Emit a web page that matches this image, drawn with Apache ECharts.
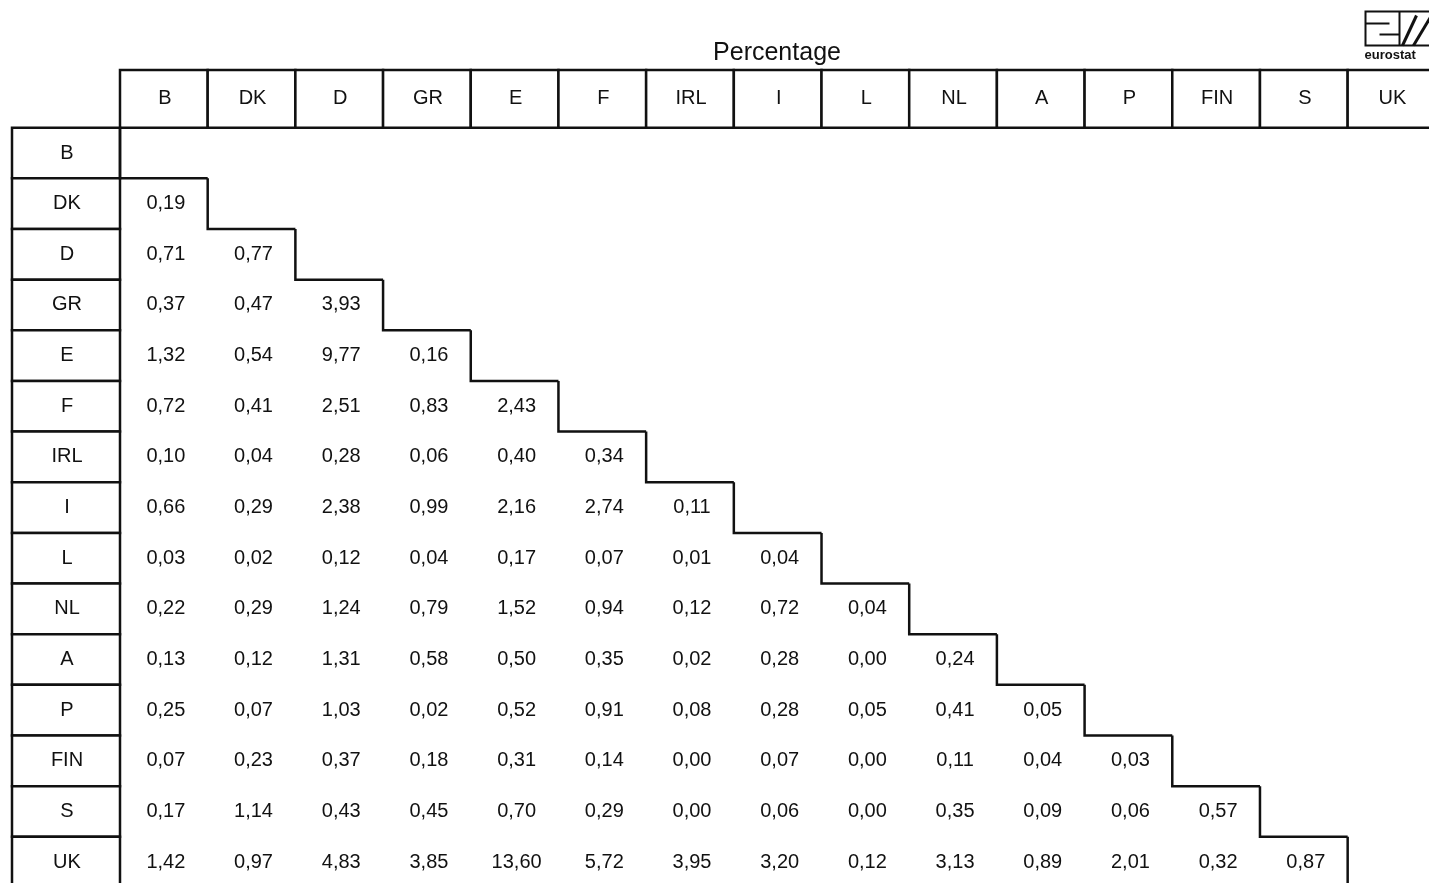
<!DOCTYPE html>
<html>
<head>
<meta charset="utf-8">
<script src="https://cdn.jsdelivr.net/npm/echarts@6/dist/echarts.min.js"></script>
<style>
  html, body { margin: 0; padding: 0; background: #fff; }
  #main { width: 1429px; height: 883px; }
</style>
</head>
<body>
<div id="main"></div>
<script>
// country codes, used for both column and row headers
var countries = ['B','DK','D','GR','E','F','IRL','I','L','NL','A','P','FIN','S','UK'];

// lower triangle, one array per row (row B is empty)
var rowB   = [];
var rowDK  = [0.19];
var rowD   = [0.71, 0.77];
var rowGR  = [0.37, 0.47, 3.93];
var rowE   = [1.32, 0.54, 9.77, 0.16];
var rowF   = [0.72, 0.41, 2.51, 0.83, 2.43];
var rowIRL = [0.10, 0.04, 0.28, 0.06, 0.40, 0.34];
var rowI   = [0.66, 0.29, 2.38, 0.99, 2.16, 2.74, 0.11];
var rowL   = [0.03, 0.02, 0.12, 0.04, 0.17, 0.07, 0.01, 0.04];
var rowNL  = [0.22, 0.29, 1.24, 0.79, 1.52, 0.94, 0.12, 0.72, 0.04];
var rowA   = [0.13, 0.12, 1.31, 0.58, 0.50, 0.35, 0.02, 0.28, 0.00, 0.24];
var rowP   = [0.25, 0.07, 1.03, 0.02, 0.52, 0.91, 0.08, 0.28, 0.05, 0.41, 0.05];
var rowFIN = [0.07, 0.23, 0.37, 0.18, 0.31, 0.14, 0.00, 0.07, 0.00, 0.11, 0.04, 0.03];
var rowS   = [0.17, 1.14, 0.43, 0.45, 0.70, 0.29, 0.00, 0.06, 0.00, 0.35, 0.09, 0.06, 0.57];
var rowUK  = [1.42, 0.97, 4.83, 3.85, 13.60, 5.72, 3.95, 3.20, 0.12, 3.13, 0.89, 2.01, 0.32, 0.87];

var rows = [rowB, rowDK, rowD, rowGR, rowE, rowF, rowIRL, rowI, rowL, rowNL, rowA, rowP, rowFIN, rowS, rowUK];

var cellData = [];
rows.forEach(function (r, i) {
  r.forEach(function (v, j) { cellData.push([j, i, v]); });
});

// layout in cell units: 1 x unit = one column, 1 y unit = one row
var ROW_HEAD_W = 1.2316;   // width of row header column
var COL_HEAD_H = 1.139;    // height of column header row
var FONT = '"Liberation Sans", Arial, sans-serif';
var INK = '#111';
var LW = 2.5;

function fmt(v) { return v.toFixed(2).replace('.', ','); }

function boxText(api, x0, y0, x1, y1, txt) {
  var p0 = api.coord([x0, y0]);
  var p1 = api.coord([x1, y1]);
  return {
    type: 'group',
    children: [{
      type: 'rect',
      shape: { x: p0[0], y: p0[1], width: p1[0] - p0[0], height: p1[1] - p0[1] },
      style: { fill: '#fff', stroke: INK, lineWidth: LW }
    }, {
      type: 'text',
      style: {
        x: (p0[0] + p1[0]) / 2 + 1, y: (p0[1] + p1[1]) / 2,
        text: txt, font: '20px ' + FONT, fill: INK,
        align: 'center', verticalAlign: 'middle'
      }
    }]
  };
}

var chart = echarts.init(document.getElementById('main'));

chart.setOption({
  animation: false,
  grid: { left: 12, right: 0, top: 70, bottom: 0 },
  xAxis: { type: 'value', min: -ROW_HEAD_W, max: -ROW_HEAD_W + 1417 / 87.69, show: false },
  yAxis: { type: 'value', inverse: true, min: -COL_HEAD_H, max: -COL_HEAD_H + 813 / 50.65, show: false },
  series: [
    {
      // column headers
      type: 'custom', clip: false,
      data: countries.map(function (c, j) { return [j, c]; }),
      renderItem: function (params, api) {
        var j = api.value(0);
        return boxText(api, j, -COL_HEAD_H, j + 1, 0, countries[j]);
      }
    },
    {
      // row headers
      type: 'custom', clip: false,
      data: countries.map(function (c, i) { return [i, c]; }),
      renderItem: function (params, api) {
        var i = api.value(0);
        return boxText(api, -ROW_HEAD_W, i, 0, i + 1, countries[i]);
      }
    },
    {
      // staircase border of the triangle
      type: 'custom', clip: false,
      data: countries.map(function (c, i) { return [i]; }),
      renderItem: function (params, api) {
        var i = api.value(0);
        var a = api.coord([i, i]);
        var b = api.coord([i, i + 1]);
        var c = api.coord([i + 1, i + 1]);
        return {
          type: 'polyline',
          shape: { points: [a, b, c] },
          style: { stroke: INK, lineWidth: LW, fill: null }
        };
      }
    },
    {
      // values
      type: 'custom', clip: false,
      data: cellData,
      renderItem: function (params, api) {
        var p = api.coord([api.value(0) + 0.5, api.value(1) + 0.5]);
        return {
          type: 'text',
          style: {
            x: p[0] + 2, y: p[1],
            text: fmt(api.value(2)), font: '20px ' + FONT, fill: INK,
            align: 'center', verticalAlign: 'middle'
          }
        };
      }
    }
  ],
  graphic: [
    {
      type: 'text',
      style: {
        x: 777, y: 53, text: 'Percentage', font: '25px ' + FONT, fill: INK,
        align: 'center', verticalAlign: 'middle'
      }
    },
    // eurostat logo, top right
    {
      type: 'group', left: 1363, top: 9,
      children: [
        { type: 'rect', shape: { x: 0, y: 0, width: 80, height: 34 }, style: { fill: 'none', stroke: INK, lineWidth: 2 } },
        { type: 'polyline', shape: { points: [[0, 12], [24, 12]] }, style: { stroke: INK, lineWidth: 2 } },
        { type: 'polyline', shape: { points: [[14, 23], [34, 23]] }, style: { stroke: INK, lineWidth: 2 } },
        { type: 'polyline', shape: { points: [[34, 0], [34, 34]] }, style: { stroke: INK, lineWidth: 2 } },
        { type: 'polyline', shape: { points: [[37, 34], [51, 4]] }, style: { stroke: INK, lineWidth: 3 } },
        { type: 'polyline', shape: { points: [[48, 34], [66, 4]] }, style: { stroke: INK, lineWidth: 3 } },
        { type: 'text', style: { x: -1, y: 37, text: 'eurostat', font: 'bold 13px ' + FONT, fill: INK } }
      ]
    }
  ]
});
</script>
</body>
</html>
